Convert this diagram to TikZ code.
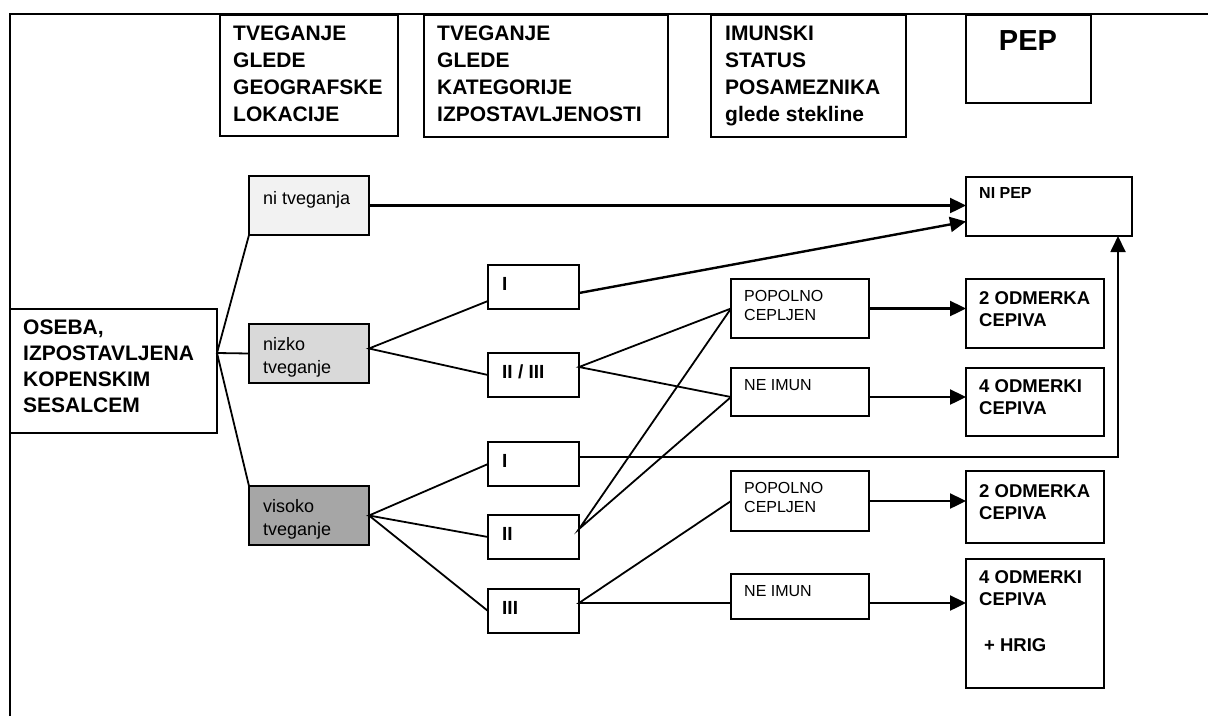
\documentclass[tikz,border=0pt]{standalone}
\usepackage{fontspec}
\setmainfont{Liberation Sans}
\usetikzlibrary{calc,arrows.meta}
\begin{document}
\begin{tikzpicture}[x=1pt,y=-1pt,
 box/.style={draw, line width=2, inner sep=0, outer sep=0, anchor=north west},
 txt/.style={inner sep=0, anchor=north west, align=left},
 hdr/.style={txt, font=\bfseries\fontsize{21}{27}\selectfont},
 big/.style={txt, font=\bfseries\fontsize{21}{26}\selectfont},
 risk/.style={txt, font=\fontsize{18}{23}\selectfont},
 cat/.style={txt, font=\bfseries\fontsize{19}{23}\selectfont},
 imm/.style={txt, font=\fontsize{16}{19}\selectfont},
 res/.style={txt, font=\bfseries\fontsize{18.5}{22.5}\selectfont},
 con/.style={line width=1.8},
 arr/.style={line width=2.4, -{Triangle[length=16pt,width=15pt]}},
]
\useasboundingbox (0,0) rectangle (1208,716);
\draw[line width=2.2] (10,716) -- (10,14) -- (1208,14);

% header boxes
\node[box, minimum width=178, minimum height=121] (h1) at (220,15) {};
\node[box, minimum width=244, minimum height=122] (h2) at (424,15) {};
\node[box, minimum width=195, minimum height=122] (h3) at (711,15) {};
\node[box, minimum width=125, minimum height=88] (pep) at (966,15) {};
\node[hdr] (h1t) at (233,26) {TVEGANJE\\GLEDE\\GEOGRAFSKE\\LOKACIJE};
\node[hdr] (h2t) at (437,26) {TVEGANJE\\GLEDE\\KATEGORIJE\\IZPOSTAVLJENOSTI};
\node[hdr] (h3t) at (725,26) {IMUNSKI\\STATUS\\POSAMEZNIKA\\glede stekline};
\node[inner sep=0, anchor=north, font=\bfseries\fontsize{29}{34}\selectfont] (pept) at (1028,30) {PEP};

% level 0/1
\node[box, minimum width=207, minimum height=124] (oseba) at (10,309) {};
\node[big] (osebat) at (23,320) {OSEBA,\\IZPOSTAVLJENA\\KOPENSKIM\\SESALCEM};
\node[box, fill={rgb,255:red,242;green,242;blue,242}, minimum width=120, minimum height=59] (nit) at (249,176) {};
\node[box, fill={rgb,255:red,217;green,217;blue,217}, minimum width=120, minimum height=59] (niz) at (249,324) {};
\node[box, fill={rgb,255:red,166;green,166;blue,166}, minimum width=120, minimum height=59] (vis) at (249,486) {};
\node[risk] (nitt) at (263,191) {ni tveganja};
\node[risk] (nizt) at (263,337) {nizko\\tveganje};
\node[risk] (vist) at (263,499) {visoko\\tveganje};

% level 2
\node[box, minimum width=91, minimum height=44] (l1) at (488,265) {};
\node[box, minimum width=91, minimum height=44] (l23) at (488,353) {};
\node[box, minimum width=91, minimum height=44] (h1c) at (488,442) {};
\node[box, minimum width=91, minimum height=44] (h2c) at (488,515) {};
\node[box, minimum width=91, minimum height=44] (h3c) at (488,589) {};
\node[cat] (l1t) at (502,277) {I};
\node[cat] (l23t) at (502,365) {II / III};
\node[cat] (h1ct) at (502,454) {I};
\node[cat] (h2ct) at (502,527) {II};
\node[cat] (h3ct) at (502,601) {III};

% level 3
\node[box, minimum width=138, minimum height=59] (pop1) at (731,279) {};
\node[box, minimum width=138, minimum height=48] (ne1) at (731,368) {};
\node[box, minimum width=138, minimum height=60] (pop2) at (731,471) {};
\node[box, minimum width=138, minimum height=45] (ne2) at (731,574) {};
\node[imm] (pop1t) at (744,290) {POPOLNO\\CEPLJEN};
\node[imm] (ne1t) at (744,379) {NE IMUN};
\node[imm] (pop2t) at (744,482) {POPOLNO\\CEPLJEN};
\node[imm] (ne2t) at (744,585) {NE IMUN};

% results
\node[box, minimum width=166, minimum height=59] (nipep) at (966,177) {};
\node[box, minimum width=138, minimum height=69] (odm1) at (966,279) {};
\node[box, minimum width=138, minimum height=68] (odk1) at (966,368) {};
\node[box, minimum width=138, minimum height=72] (odm2) at (966,471) {};
\node[box, minimum width=138, minimum height=129] (odk2) at (966,559) {};
\node[txt, font=\bfseries\fontsize{16}{19}\selectfont] (nipept) at (979,187) {NI PEP};
\node[res] (odm1t) at (979,291) {2 ODMERKA\\CEPIVA};
\node[res] (odk1t) at (979,379) {4 ODMERKI\\CEPIVA};
\node[res] (odm2t) at (979,484) {2 ODMERKA\\CEPIVA};
\node[res] (odk2t) at (979,570) {4 ODMERKI\\CEPIVA};
\node[res] (odk2h) at (984,638) {+ HRIG};

% connectors
\coordinate (j0) at ($(oseba.north east)+(0,44)$);
\draw[con] (nit.south west) -- (j0) -- (niz.west);
\draw[con] (j0) -- (vis.north west);
\coordinate (jn) at ($(niz.east)+(0,-5)$);
\draw[con] ($(l1.south west)+(0,-8)$) -- (jn) -- (l23.west);
\draw[con] (h1c.west) -- (vis.east) -- (h2c.west);
\draw[con] (vis.east) -- (h3c.west);
\coordinate (o23) at ($(l23.east)+(0,-8)$);
\coordinate (n1i) at ($(ne1.west)+(0,5)$);
\draw[con] (pop1.west) -- (o23) -- (n1i);
\coordinate (oh2) at ($(h2c.east)+(0,-8)$);
\draw[con] (pop1.west) -- (oh2) -- (n1i);
\coordinate (oh3) at ($(h3c.east)+(0,-8)$);
\draw[con] (pop2.west) -- (oh3) -- (oh3 -| ne2.west);

% arrows
\draw[arr] (nit.east) -- (nit.east -| nipep.west);
\draw[arr] ($(l1.east)+(0,6)$) -- ($(nipep.west)+(0,15)$);
\draw[arr, line width=1.8] ($(h1c.east)+(0,-7)$) -| ($(nipep.south east)+(-14,0)$);
\draw[arr] (pop1.east) -- (pop1.east -| odm1.west);
\coordinate (n1o) at ($(ne1.east)+(0,5)$);
\draw[arr] (n1o) -- (n1o -| odk1.west);
\draw[arr] (pop2.east) -- (pop2.east -| odm2.west);
\draw[arr] (oh3 -| ne2.east) -- (oh3 -| odk2.west);
\end{tikzpicture}
\end{document}
